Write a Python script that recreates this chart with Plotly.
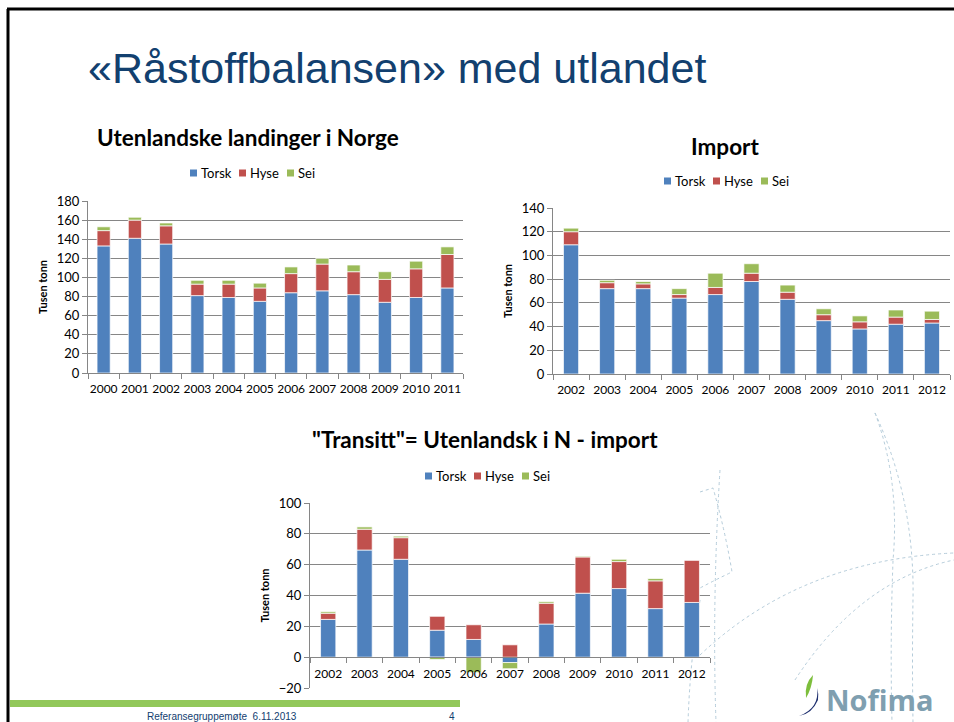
import plotly.graph_objects as go

W, H = 954, 722

# Utenlandske landinger i Norge (tusen tonn)
years_land = ['2000', '2001', '2002', '2003', '2004', '2005', '2006', '2007', '2008', '2009', '2010', '2011']
land_torsk = [133, 141, 135, 81, 79, 75, 84, 86, 82, 74, 79, 89]
land_hyse = [16, 19, 19, 12, 14, 14, 20, 28, 24, 24, 30, 35]
land_sei = [4, 3, 3, 4, 4, 5, 7, 6, 7, 8, 8, 8]

# Import (tusen tonn)
years_imp = ['2002', '2003', '2004', '2005', '2006', '2007', '2008', '2009', '2010', '2011', '2012']
imp_torsk = [109, 72, 72, 64, 67, 78, 63, 45, 38, 42, 43]
imp_hyse = [11, 5, 4, 3, 6, 7, 6, 5, 6, 6, 3]
imp_sei = [3, 2, 2, 5, 12, 8, 6, 5, 5, 6, 7]

# "Transitt" = utenlandsk i N - import
years_tr = ['2002', '2003', '2004', '2005', '2006', '2007', '2008', '2009', '2010', '2011', '2012']
tr_torsk = [24.5, 69.5, 63.5, 17.5, 11.5, -3.5, 21.5, 41.5, 44.5, 31.5, 35.5]
tr_hyse = [4, 13.5, 14, 9, 9.5, 8, 13.5, 23.5, 17.5, 18, 27.5]
tr_sei = [1, 1.5, 1, -1.5, -10, -4, 1, 0.5, 1.5, 1.5, 0]

species = ['Torsk', 'Hyse', 'Sei']
colors = ['#4F81BD', '#C0504D', '#9BBB59']

FONT = 'Lato'
TITLE_BLUE = '#12406F'


def px_x(x):
    return x / W


def px_y(y):
    return 1 - y / H


fig = go.Figure()

charts = [
    ('x', 'y', years_land, [land_torsk, land_hyse, land_sei]),
    ('x2', 'y2', years_imp, [imp_torsk, imp_hyse, imp_sei]),
    ('x3', 'y3', years_tr, [tr_torsk, tr_hyse, tr_sei]),
]
for xa, ya, yrs, series in charts:
    for name, vals, col in zip(species, series, colors):
        fig.add_trace(go.Bar(
            x=yrs, y=vals, name=name, xaxis=xa, yaxis=ya, showlegend=False,
            marker=dict(color=col, line=dict(color='rgba(255,255,255,0.7)', width=1)),
            width=0.42,
        ))

# domains (from the slide layout)
x1dom = [px_x(88), px_x(463)]
y1dom = [px_y(373), px_y(201)]
x2dom = [px_x(553), px_x(950)]
y2dom = [px_y(374), px_y(208)]
x3dom = [px_x(310), px_x(710)]
y3dom = [px_y(688), px_y(503)]
y3range = [-20, 100]
zero_pos = y3dom[0] + (y3dom[1] - y3dom[0]) * (0 - y3range[0]) / (y3range[1] - y3range[0])

xcommon = dict(type='category', showline=True, linecolor='#868686', linewidth=1,
               ticks='outside', tickson='boundaries', ticklen=5, tickcolor='#868686',
               tickfont=dict(family=FONT, size=12, color='#000000'), tickangle=0,
               ticklabelstandoff=5, showgrid=False, automargin=False)
ycommon = dict(showline=True, linecolor='#868686', linewidth=1, ticks='outside',
               ticklen=5, tickcolor='#868686', automargin=False,
               tickfont=dict(family=FONT, size=13, color='#000000'), showgrid=True,
               gridcolor='#868686', gridwidth=1, zeroline=False,
               title=dict(text='<b>Tusen tonn</b>', font=dict(family=FONT, size=11, color='#000000'),
                          standoff=6))

fig.update_layout(
    xaxis=dict(domain=x1dom, anchor='y', **xcommon),
    yaxis=dict(domain=y1dom, anchor='x', range=[0, 180], dtick=20, **ycommon),
    xaxis2=dict(domain=x2dom, anchor='y2', **xcommon),
    yaxis2=dict(domain=y2dom, anchor='x2', range=[0, 140], dtick=20, **ycommon),
    xaxis3=dict(domain=x3dom, anchor='free', position=zero_pos, **xcommon),
    yaxis3=dict(domain=y3dom, anchor='x3', range=y3range, dtick=20, **ycommon),
    barmode='relative',
)

annotations = [
    dict(text='«Råstoffbalansen» med utlandet', x=px_x(86), y=px_y(68), xanchor='left',
         yanchor='middle', font=dict(family='Liberation Sans', size=43, color=TITLE_BLUE)),
    dict(text='<b>Utenlandske landinger i Norge</b>', x=px_x(248), y=px_y(138),
         xanchor='center', yanchor='middle', font=dict(family=FONT, size=22.5, color='#000000')),
    dict(text='<b>Import</b>', x=px_x(725), y=px_y(146),
         xanchor='center', yanchor='middle', font=dict(family=FONT, size=22.5, color='#000000')),
    dict(text='<b>"Transitt"= Utenlandsk i N - import</b>', x=px_x(485), y=px_y(440),
         xanchor='center', yanchor='middle', font=dict(family=FONT, size=22.5, color='#000000')),
    dict(text='Referansegruppemøte  6.11.2013', x=px_x(222), y=px_y(716),
         xanchor='center', yanchor='middle', font=dict(family='Liberation Sans', size=10, color=TITLE_BLUE)),
    dict(text='4', x=px_x(452), y=px_y(716),
         xanchor='center', yanchor='middle', font=dict(family='Liberation Sans', size=10, color=TITLE_BLUE)),
    dict(text='<b>Nofima</b>', x=px_x(824), y=px_y(699), xanchor='left', yanchor='middle',
         font=dict(family='Open Sans', size=29, color='#7F9FB0')),
]

shapes = []

# legends: small coloured squares + names, one row per chart
legend_rows = [(251, 173), (725, 181), (486, 476)]
item_offsets = [-61, -12, 36]
for cx, cy in legend_rows:
    for off, name, col in zip(item_offsets, species, colors):
        x0 = cx + off
        shapes.append(dict(type='rect', xref='paper', yref='paper',
                           x0=px_x(x0), x1=px_x(x0 + 7), y0=px_y(cy + 3.5), y1=px_y(cy - 3.5),
                           fillcolor=col, line=dict(width=0)))
        annotations.append(dict(text=name, x=px_x(x0 + 9), y=px_y(cy), xanchor='left',
                                yanchor='middle', font=dict(family=FONT, size=13, color='#000000')))

for a in annotations:
    a.update(xref='paper', yref='paper', showarrow=False)
fig.update_layout(annotations=annotations)


def pth(points):
    # points in pixel space -> path in paper fractions
    out = []
    for seg in points:
        cmd = seg[0]
        coords = seg[1:]
        parts = []
        for i in range(0, len(coords), 2):
            parts.append('%.4f,%.4f' % (px_x(coords[i]), px_y(coords[i + 1])))
        out.append(cmd + ' ' + ' '.join(parts))
    return ' '.join(out)


deco = dict(type='path', xref='paper', yref='paper', layer='below',
            line=dict(color='#B5CCDA', width=1, dash='dot'))
shapes += [
    # slide border
    dict(type='line', xref='paper', yref='paper', x0=px_x(7), x1=1, y0=px_y(9), y1=px_y(9),
         line=dict(color='#000000', width=3)),
    dict(type='line', xref='paper', yref='paper', x0=px_x(8), x1=px_x(8), y0=px_y(9), y1=0,
         line=dict(color='#000000', width=3)),
    # green footer bar
    dict(type='rect', xref='paper', yref='paper', x0=px_x(10), x1=px_x(460),
         y0=px_y(707), y1=px_y(700), fillcolor='#92C85A', line=dict(width=0)),
    # decorative curves
    dict(path=pth([('M', 875, 413), ('Q', 900, 480, 893, 560), ('Q', 890, 640, 892, 722)]), **deco),
    dict(path=pth([('M', 875, 413), ('Q', 915, 500, 913, 600), ('Q', 912, 660, 913, 722)]), **deco),
    dict(path=pth([('M', 700, 655), ('Q', 800, 560, 954, 553)]), **deco),
    dict(path=pth([('M', 795, 680), ('Q', 860, 580, 954, 560)]), **deco),
    dict(path=pth([('M', 700, 492), ('L', 713, 488), ('Q', 725, 530, 732, 572), ('Q', 715, 580, 700, 588)]), **deco),
    dict(path=pth([('M', 700, 600), ('Q', 690, 660, 688, 722)]), **deco),
    dict(path=pth([('M', 720, 470), ('Q', 712, 600, 716, 722)]), **deco),
    # Nofima swoosh
    dict(type='path', xref='paper', yref='paper',
         path=pth([('M', 813, 675), ('Q', 804, 684, 806, 698), ('Q', 812, 688, 813, 675), ('Z',)]),
         fillcolor='#7DBE3C', line=dict(width=0)),
    dict(type='path', xref='paper', yref='paper',
         path=pth([('M', 817, 688), ('Q', 820, 708, 799, 716), ('Q', 812, 714, 818, 700),
                   ('Q', 819, 694, 817, 688), ('Z',)]),
         fillcolor='#1E2F6E', line=dict(width=0)),
]
fig.update_layout(shapes=shapes)

fig.update_layout(
    width=W, height=H,
    margin=dict(l=0, r=0, t=0, b=0, autoexpand=False),
    paper_bgcolor='#FFFFFF',
    plot_bgcolor='rgba(0,0,0,0)',
)

fig.write_html('out.html', config={'displayModeBar': False},
               post_script="document.body.style.margin='0';"
                           "document.documentElement.style.overflow='hidden';")
